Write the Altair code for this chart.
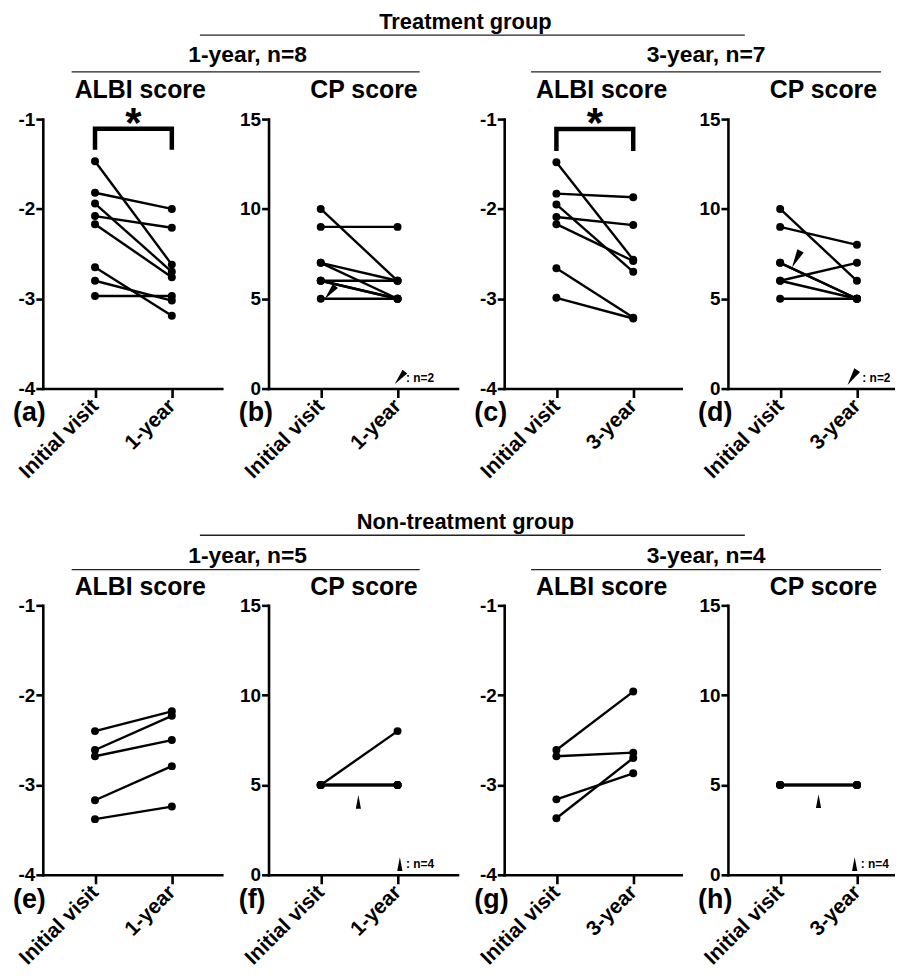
import altair as alt
import pandas as pd

FONT = "Liberation Sans"

# ---------------- data ----------------
# Treatment group, 1-year (n=8)
albi_t1_initial = [-1.47, -1.82, -1.94, -2.08, -2.17, -2.65, -2.80, -2.97]
albi_t1_followup = [-2.62, -2.00, -2.70, -2.21, -2.76, -3.19, -3.02, -2.97]
cp_t1_initial = [10, 9, 7, 7, 6, 6, 6, 5]
cp_t1_followup = [6, 9, 6, 5, 6, 5, 5, 5]
# Treatment group, 3-year (n=7)
albi_t3_initial = [-1.48, -1.83, -1.95, -2.09, -2.17, -2.66, -2.99]
albi_t3_followup = [-2.565, -1.87, -2.70, -2.18, -2.58, -3.21, -3.22]
cp_t3_initial = [10, 9, 7, 7, 6, 6, 5]
cp_t3_followup = [6, 8, 5, 5, 7, 5, 5]
# Non-treatment group, 1-year (n=5)
albi_n1_initial = [-2.40, -2.61, -2.68, -3.17, -3.38]
albi_n1_followup = [-2.18, -2.23, -2.50, -2.79, -3.24]
cp_n1_initial = [5, 5, 5, 5, 5]
cp_n1_followup = [8, 5, 5, 5, 5]
# Non-treatment group, 3-year (n=4)
albi_n3_initial = [-2.61, -2.68, -3.16, -3.37]
albi_n3_followup = [-1.96, -2.64, -2.87, -2.70]
cp_n3_initial = [5, 5, 5, 5]
cp_n3_followup = [5, 5, 5, 5]

x_labels_1y = ["Initial visit", "1-year"]
x_labels_3y = ["Initial visit", "3-year"]
albi_ticks = [-4, -3, -2, -1]
cp_ticks = [0, 5, 10, 15]
panel_letters = ["(a)", "(b)", "(c)", "(d)", "(e)", "(f)", "(g)", "(h)"]
group_titles = ["Treatment group", "Non-treatment group"]
sub_titles = ["1-year, n=8", "3-year, n=7", "1-year, n=5", "3-year, n=4"]
score_titles = ["ALBI score", "CP score"]

# significance brackets (a) and (c): x, y
bracket_x = [0, 0, 1, 1]
bracket_a_y = [-1.34, -1.107, -1.107, -1.34]
bracket_c_y = [-1.355, -1.11, -1.11, -1.355]

# arrowhead annotations: x, y, angle, size
wedge_b = dict(x=[0.12, 1.03], v=[5.34, 0.6], angle=[219, 219], size=[300, 260])
wedge_d = dict(x=[0.21, 0.94], v=[7.2, 0.61], angle=[207, 213], size=[360, 320])
arrow_f = dict(x=[0.49, 1.03], v=[4.06, 0.6], angle=[0, 0], size=[190, 190])
arrow_h = dict(x=[0.50, 0.97], v=[4.1, 0.6], angle=[0, 0], size=[190, 190])
legend_b = dict(x=[1.11], v=[0.6], t=[": n=2"])
legend_d = dict(x=[1.07], v=[0.6], t=[": n=2"])
legend_f = dict(x=[1.11], v=[0.6], t=[": n=4"])
legend_h = dict(x=[1.05], v=[0.6], t=[": n=4"])

H = 271
STEP = 77.25
LEFT = 52.5
WEDGE = "M0,-1L0.38,1L-0.38,1Z"


def pairs_df(init, post):
    rows = []
    for i, (a, b) in enumerate(zip(init, post)):
        rows.append({"id": i, "x": 0, "v": a})
        rows.append({"id": i, "x": 1, "v": b})
    return pd.DataFrame(rows)


def txt(text, px, py, size, align="center", weight="bold"):
    return alt.Chart(pd.DataFrame({"t": [text]})).mark_text(
        font=FONT, fontSize=size, fontWeight=weight, align=align,
        baseline="alphabetic", color="black"
    ).encode(x=alt.value(px), y=alt.value(py), text="t:N")


def hline(x0, x1, py):
    return alt.Chart(pd.DataFrame({"a": [0]})).mark_rule(
        color="#222", strokeWidth=1.3
    ).encode(x=alt.value(x0), x2=alt.value(x1), y=alt.value(py))


def panel(init, post, kind, xlabels, letter, width, score_title, title_y,
          bracket_y=None, wedges=None, legend=None, headers=()):
    df = pairs_df(init, post)
    if kind == "albi":
        ydom, yticks = [-4, -1], albi_ticks
    else:
        ydom, yticks = [0, 15], cp_ticks
    xdom = [-LEFT / STEP, (width - LEFT) / STEP]
    label_expr = f"datum.value == 0 ? '{xlabels[0]}' : '{xlabels[1]}'"
    xenc = alt.X("x:Q", scale=alt.Scale(domain=xdom, nice=False, zero=False),
                 axis=alt.Axis(values=[0, 1], labelExpr=label_expr, labelAngle=-45,
                               labelAlign="right", labelBaseline="middle",
                               labelFontSize=21, tickSize=9, labelPadding=5,
                               labelFlush=False, labelOverlap=False, title=None))
    yenc = alt.Y("v:Q", scale=alt.Scale(domain=ydom, nice=False, zero=False),
                 axis=alt.Axis(values=yticks, labelExpr="datum.value + ''",
                               tickSize=7, labelPadding=1, labelFontSize=19,
                               labelFlush=False, labelOverlap=False, title=None))
    base = alt.Chart(df)
    layers = [
        base.mark_line(color="black", strokeWidth=2.4).encode(x=xenc, y=yenc, detail="id:N"),
        base.mark_point(filled=True, color="black", size=64, opacity=1).encode(x=xenc, y=yenc),
    ]
    if bracket_y is not None:
        bdf = pd.DataFrame({"x": bracket_x, "v": bracket_y, "o": list(range(4))})
        layers.append(alt.Chart(bdf).mark_line(color="black", strokeWidth=4.5,
                                               strokeJoin="miter", strokeCap="butt").encode(
            x=xenc, y=yenc, order="o:Q"))
        sdf = pd.DataFrame({"x": [0.5], "v": [-1.0], "t": ["*"]})
        layers.append(alt.Chart(sdf).mark_text(font=FONT, fontSize=42, fontWeight="bold",
                                               baseline="alphabetic", dy=18, color="black").encode(
            x=xenc, y=yenc, text="t:N"))
    if wedges is not None:
        wdf = pd.DataFrame(wedges)
        layers.append(alt.Chart(wdf).mark_point(shape=WEDGE, filled=True, color="black",
                                                opacity=1).encode(
            x=xenc, y=yenc, angle=alt.Angle("angle:Q", scale=None),
            size=alt.Size("size:Q", scale=None)))
    if legend is not None:
        ldf = pd.DataFrame(legend)
        layers.append(alt.Chart(ldf).mark_text(font=FONT, fontSize=12, fontWeight="bold",
                                               align="left", baseline="middle", color="black").encode(
            x=xenc, y=yenc, text="t:N"))
    layers.append(txt(score_title, 98 if kind == "albi" else 96, title_y, 25))
    layers.append(txt(letter, -30, H + 33, 27, align="left"))
    layers.extend(headers)
    return alt.layer(*layers).properties(width=width, height=H)


# column widths chosen so that plot origins fall at the reference positions
W_A, W_B, W_C, W_D = 180, 190, 178, 168

# ---------------- top row ----------------
top_headers_a = [
    txt(group_titles[0], 425, -91, 22), hline(158, 706, -84.5),
    txt(sub_titles[0], 206, -57, 23), hline(29, 379, -47.5),
]
top_headers_c = [txt(sub_titles[1], 203, -57, 23), hline(27, 379, -47.5)]

pa = panel(albi_t1_initial, albi_t1_followup, "albi", x_labels_1y, panel_letters[0], W_A,
           score_titles[0], -21, bracket_y=bracket_a_y, headers=top_headers_a)
pb = panel(cp_t1_initial, cp_t1_followup, "cp", x_labels_1y, panel_letters[1], W_B,
           score_titles[1], -21, wedges=wedge_b, legend=legend_b)
pc = panel(albi_t3_initial, albi_t3_followup, "albi", x_labels_3y, panel_letters[2], W_C,
           score_titles[0], -21, bracket_y=bracket_c_y, headers=top_headers_c)
pd_ = panel(cp_t3_initial, cp_t3_followup, "cp", x_labels_3y, panel_letters[3], W_D,
            score_titles[1], -21, wedges=wedge_d, legend=legend_d)

# ---------------- bottom row ----------------
bot_headers_e = [
    txt(group_titles[1], 425, -77, 22), hline(158, 706, -70.5),
    txt(sub_titles[2], 206, -43, 23), hline(29, 379, -36),
]
bot_headers_g = [txt(sub_titles[3], 203, -43, 23), hline(27, 379, -36)]

pe = panel(albi_n1_initial, albi_n1_followup, "albi", x_labels_1y, panel_letters[4], W_A,
           score_titles[0], -10, headers=bot_headers_e)
pf = panel(cp_n1_initial, cp_n1_followup, "cp", x_labels_1y, panel_letters[5], W_B,
           score_titles[1], -10, wedges=arrow_f, legend=legend_f)
pg = panel(albi_n3_initial, albi_n3_followup, "albi", x_labels_3y, panel_letters[6], W_C,
           score_titles[0], -10, headers=bot_headers_g)
ph = panel(cp_n3_initial, cp_n3_followup, "cp", x_labels_3y, panel_letters[7], W_D,
           score_titles[1], -10, wedges=arrow_h, legend=legend_h)

chart = alt.concat(
    pa, pb, pc, pd_, pe, pf, pg, ph,
    columns=4, spacing={"row": 218, "column": 47}, bounds="flush"
).properties(
    padding={"left": 5, "top": 0, "right": 0, "bottom": 0}
).configure_view(stroke=None).configure_axis(
    domainColor="black", domainWidth=2.6, tickColor="black", tickWidth=2.6,
    labelColor="black", labelFont=FONT, labelFontWeight="bold", grid=False,
    domainCap="square"
)

chart.save("out.html", embed_options={"renderer": "svg", "actions": False})
